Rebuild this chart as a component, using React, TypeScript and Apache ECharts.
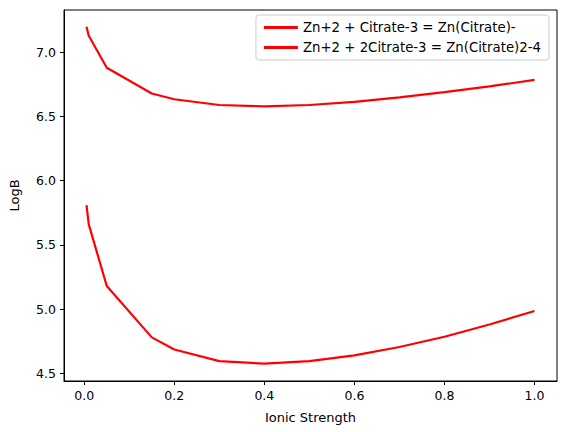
import React, { useEffect, useRef } from "react";
import * as echarts from "echarts";

const ionicStrength = [0.005, 0.01, 0.05, 0.15, 0.2, 0.3, 0.4, 0.5, 0.6, 0.7, 0.8, 0.9, 1.0];
const logB1 = [7.2, 7.13, 6.88, 6.68, 6.635, 6.59, 6.58, 6.59, 6.615, 6.65, 6.69, 6.735, 6.785];
const logB2 = [5.81, 5.66, 5.18, 4.78, 4.685, 4.595, 4.575, 4.595, 4.64, 4.705, 4.785, 4.88, 4.985];
const seriesNames = ["Zn+2 + Citrate-3 = Zn(Citrate)-", "Zn+2 + 2Citrate-3 = Zn(Citrate)2-4"];
const xTicks = [0, 0.2, 0.4, 0.6, 0.8, 1.0];
const yTicks = [4.5, 5.0, 5.5, 6.0, 6.5, 7.0];

export default function App() {
  const ref = useRef<HTMLDivElement>(null);
  useEffect(() => {
    const chart = echarts.init(ref.current!, null, { renderer: "svg" });
    const font = "DejaVu Sans";
    const axisCommon = {
      axisLine: { show: true, onZero: false, lineStyle: { color: "#000" } },
      axisTick: { show: true, length: 4, lineStyle: { color: "#000" } },
      splitLine: { show: false },
      nameTextStyle: { fontFamily: font, fontSize: 13, color: "#000" },
    };
    chart.setOption({
      animation: false,
      textStyle: { fontFamily: font },
      grid: { left: 62, right: 10, top: 10, bottom: 51, show: true, borderColor: "#000", borderWidth: 1 },
      legend: {
        right: 18, top: 15, orient: "vertical", itemWidth: 34, itemHeight: 3, itemGap: 7,
        borderColor: "#ccc", borderWidth: 1, borderRadius: 3, padding: [6, 8],
        icon: "rect",
        textStyle: { fontFamily: font, fontSize: 13.3, color: "#000" },
        data: seriesNames,
      },
      xAxis: {
        type: "value", min: -0.045, max: 1.05,
        name: "Ionic Strength", nameLocation: "middle", nameGap: 30,
        ...axisCommon,
        axisTick: { ...axisCommon.axisTick, customValues: xTicks },
        axisLabel: { customValues: xTicks, fontFamily: font, fontSize: 12.5, color: "#000", formatter: (v: number) => v.toFixed(1) },
      },
      yAxis: {
        type: "value", min: 4.44, max: 7.33,
        name: "LogB", nameLocation: "middle", nameGap: 43,
        ...axisCommon,
        axisTick: { ...axisCommon.axisTick, customValues: yTicks },
        axisLabel: { customValues: yTicks, fontFamily: font, fontSize: 12.5, color: "#000", formatter: (v: number) => v.toFixed(1) },
      },
      series: [logB1, logB2].map((d, i) => ({
        name: seriesNames[i], type: "line", showSymbol: false, symbol: "none",
        data: d.map((v, j) => [ionicStrength[j], v]),
        lineStyle: { color: "#ff0000", width: 2.2 }, itemStyle: { color: "#ff0000" },
      })),
    });
    return () => chart.dispose();
  }, []);
  return <div ref={ref} style={{ position: "fixed", left: 0, top: 0, width: 567, height: 432, background: "#fff" }} />;
}
